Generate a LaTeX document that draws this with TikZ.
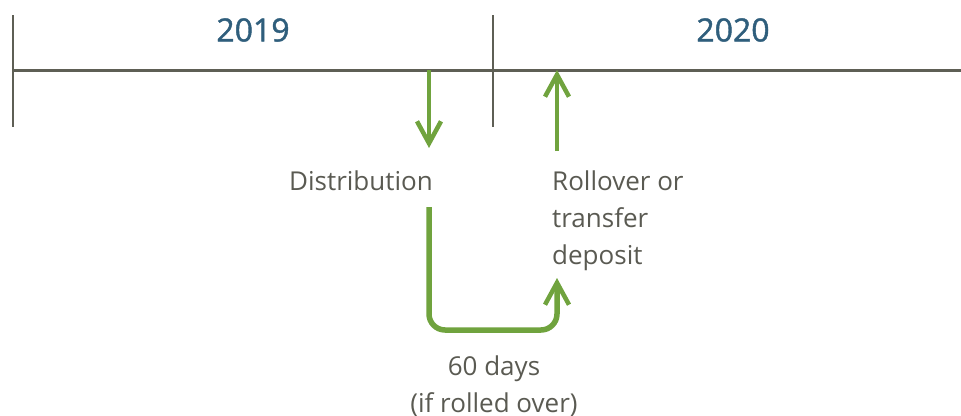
\documentclass[tikz,border=0pt]{standalone}
\usepackage{fontspec}
\setmainfont{Open Sans}
\newfontfamily\yearfont[FakeBold=1.3]{Open Sans}
\usetikzlibrary{arrows.meta}
\definecolor{axisgray}{HTML}{5E5F55}
\definecolor{labelgray}{HTML}{5A5A52}
\definecolor{yearblue}{HTML}{2F5E7C}
\definecolor{flowgreen}{HTML}{70A33E}
\tikzset{
  axis/.style={draw=axisgray, line width=3pt},
  tick/.style={draw=axisgray, line width=2.2pt},
  year/.style={text=yearblue, font=\yearfont\fontsize{32}{38}\selectfont},
  label/.style={text=labelgray, font=\fontsize{26}{37}\selectfont, inner sep=0pt},
  flow/.style={draw=flowgreen, line width=4.5pt, -{Straight Barb[length=22pt, width=24pt, line width=4.5pt]}},
}
\begin{document}
\begin{tikzpicture}[x=1pt, y=-1pt]
  \useasboundingbox (0,0) rectangle (961,415);
  % timeline with year dividers
  \coordinate (tl) at (12,70);
  \coordinate (tr) at (961,70);
  \draw[axis] (tl) -- (tr);
  \coordinate (d0t) at (13,15);
  \coordinate (d0b) at (13,127);
  \coordinate (d1t) at (493,15);
  \coordinate (d1b) at (493,127);
  \draw[tick] (d0t) -- (d0b);
  \draw[tick] (d1t) -- (d1b);
  \node[year] (y2019) at (253,30) {2019};
  \node[year] (y2020) at (733,30) {2020};
  % labels (base anchor sits on the last line of a multi-line node)
  \node[label, anchor=base] (dist) at (361,190) {Distribution};
  \node[label, anchor=base west, align=left] (roll) at (552,264)
    {Rollover or\\transfer\\deposit};
  \node[label, anchor=base, align=center] (days) at (494,412)
    {60 days\\(if rolled over)};
  % arrows to and from the timeline
  \coordinate (outTop) at (429,70);
  \coordinate (outTip) at (429,148);
  \coordinate (inBot) at (557,151);
  \coordinate (inTip) at (557,70);
  \draw[flow] (outTop) -- (outTip);
  \draw[flow] (inBot) -- (inTip);
  % waiting period loop
  \coordinate (loopA) at (429,207);
  \coordinate (loopB) at (557,278);
  \draw[flow, line width=5.5pt, rounded corners=16pt]
    (loopA) |- (493,330) -| (loopB);
\end{tikzpicture}
\end{document}
